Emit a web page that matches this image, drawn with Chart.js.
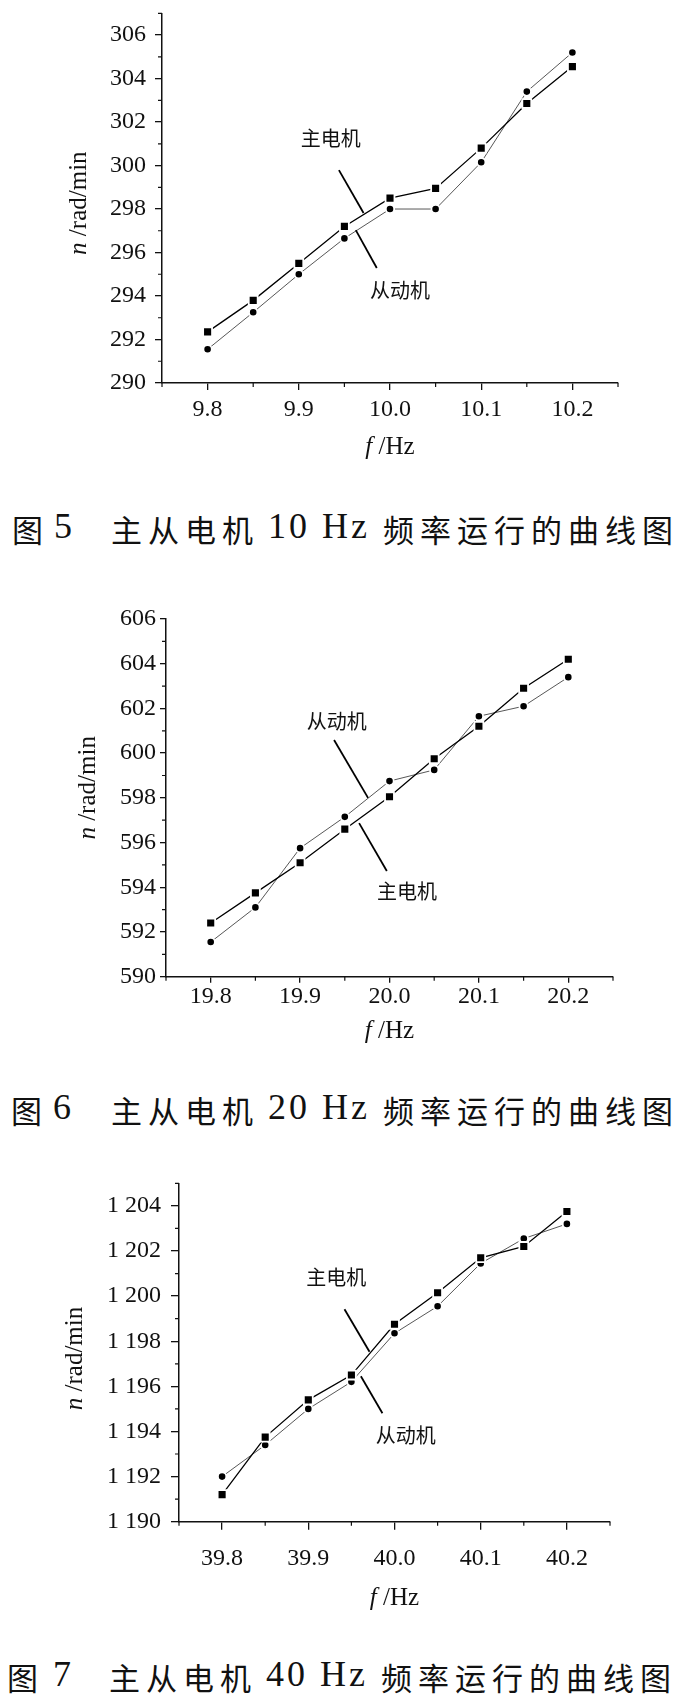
<!DOCTYPE html>
<html>
<head>
<meta charset="utf-8">
<script src="https://cdn.jsdelivr.net/npm/chart.js@4.4.1/dist/chart.umd.min.js"></script>
<style>
  html, body { margin: 0; padding: 0; background: #fff; }
  body { width: 682px; height: 1703px; position: relative; overflow: hidden; }
  canvas { position: absolute; left: 0; }
  .cc { position: absolute; white-space: pre; font-family: "Noto Sans CJK SC", sans-serif;
        font-size: 31px; line-height: 31px; letter-spacing: 6px; color: #111; }
  .cl { position: absolute; white-space: pre; font-family: "Liberation Serif", serif;
        font-size: 36px; line-height: 36px; letter-spacing: 3px; color: #111; }
</style>
</head>
<body>
<canvas id="c1" width="682" height="497" style="top:-17px"></canvas>
<div class="cc" style="left:12px;top:512.5px">图</div>
<div class="cl" style="left:54px;top:508px">5</div>
<div class="cc" style="left:111px;top:512.5px">主从电机</div>
<div class="cl" style="left:268px;top:508px">10 Hz</div>
<div class="cc" style="left:383px;top:512.5px">频率运行的曲线图</div>

<canvas id="c2" width="682" height="461" style="top:589px"></canvas>
<div class="cc" style="left:11px;top:1093.5px">图</div>
<div class="cl" style="left:53px;top:1089px">6</div>
<div class="cc" style="left:111px;top:1093.5px">主从电机</div>
<div class="cl" style="left:268px;top:1089px">20 Hz</div>
<div class="cc" style="left:383px;top:1093.5px">频率运行的曲线图</div>

<canvas id="c3" width="682" height="467" style="top:1153px"></canvas>
<div class="cc" style="left:7px;top:1660.5px">图</div>
<div class="cl" style="left:53px;top:1656px">7</div>
<div class="cc" style="left:109px;top:1660.5px">主从电机</div>
<div class="cl" style="left:266px;top:1656px">40 Hz</div>
<div class="cc" style="left:381px;top:1660.5px">频率运行的曲线图</div>
<script>
// ---------------- data ----------------
const seriesNames = ['主电机', '从动机'];

// Fig. 5 (10 Hz)
const freq1 = [9.80, 9.85, 9.90, 9.95, 10.00, 10.05, 10.10, 10.15, 10.20];
const master1 = [292.35, 293.8, 295.5, 297.2, 298.5, 298.95, 300.8, 302.85, 304.55];
const slave1 = [291.55, 293.25, 295.0, 296.65, 298.0, 298.0, 300.15, 303.4, 305.2];
const xTicks1 = [9.8, 9.9, 10.0, 10.1, 10.2];
const xLabels1 = ['9.8', '9.9', '10.0', '10.1', '10.2'];
const yTicks1 = [290, 292, 294, 296, 298, 300, 302, 304, 306];
const yLabels1 = ['290', '292', '294', '296', '298', '300', '302', '304', '306'];

// Fig. 6 (20 Hz)
const freq2 = [19.80, 19.85, 19.90, 19.95, 20.00, 20.05, 20.10, 20.15, 20.20];
const master2 = [592.4, 593.75, 595.1, 596.6, 598.05, 599.75, 601.2, 602.9, 604.2];
const slave2 = [591.55, 593.1, 595.75, 597.15, 598.75, 599.25, 601.65, 602.1, 603.4];
const xTicks2 = [19.8, 19.9, 20.0, 20.1, 20.2];
const xLabels2 = ['19.8', '19.9', '20.0', '20.1', '20.2'];
const yTicks2 = [590, 592, 594, 596, 598, 600, 602, 604, 606];
const yLabels2 = ['590', '592', '594', '596', '598', '600', '602', '604', '606'];

// Fig. 7 (40 Hz)
const freq3 = [39.80, 39.85, 39.90, 39.95, 40.00, 40.05, 40.10, 40.15, 40.20];
const master3 = [1191.2, 1193.75, 1195.4, 1196.5, 1198.75, 1200.15, 1201.7, 1202.2, 1203.75];
const slave3 = [1192.0, 1193.4, 1195.0, 1196.2, 1198.35, 1199.55, 1201.45, 1202.55, 1203.2];
const xTicks3 = [39.8, 39.9, 40.0, 40.1, 40.2];
const xLabels3 = ['39.8', '39.9', '40.0', '40.1', '40.2'];
const yTicks3 = [1190, 1192, 1194, 1196, 1198, 1200, 1202, 1204];
const yLabels3 = ['1 190', '1 192', '1 194', '1 196', '1 198', '1 200', '1 202', '1 204'];

// ---------------- drawing ----------------
Chart.defaults.font.family = '"Liberation Serif", "Times New Roman", serif';
Chart.defaults.font.size = 24;
Chart.defaults.color = '#111';

function minors(ticks, min, max) {
  const step = ticks[1] - ticks[0];
  const out = [];
  for (let i = -1; i < ticks.length; i++) {
    const v = (i < 0 ? ticks[0] - step / 2 : ticks[i] + step / 2);
    if (v >= min - 1e-9 && v <= max + 1e-9) out.push(v);
  }
  return out;
}

function drawMixed(ctx, parts, x, y, size) {
  let total = 0;
  parts.forEach(p => {
    ctx.font = (p.i ? 'italic ' : '') + size + 'px "Liberation Serif"';
    p.w = ctx.measureText(p.t).width;
    total += p.w;
  });
  let cx = x - total / 2;
  ctx.textAlign = 'left';
  ctx.textBaseline = 'middle';
  parts.forEach(p => {
    ctx.font = (p.i ? 'italic ' : '') + size + 'px "Liberation Serif"';
    ctx.fillText(p.t, cx, y);
    cx += p.w;
  });
}

const decor = {
  id: 'decor',
  afterDraw(chart, args, o) {
    const ctx = chart.ctx, xs = chart.scales.x, ys = chart.scales.y, ca = chart.chartArea;
    ctx.save();
    ctx.strokeStyle = '#111';
    ctx.lineWidth = 1.2;
    ctx.beginPath();
    o.xMinor.forEach(v => { const px = xs.getPixelForValue(v); ctx.moveTo(px, ca.bottom); ctx.lineTo(px, ca.bottom + o.minorLen); });
    o.yMinor.forEach(v => { const py = ys.getPixelForValue(v); ctx.moveTo(ca.left, py); ctx.lineTo(ca.left - o.minorLen, py); });
    ctx.stroke();

    ctx.strokeStyle = '#000';
    ctx.lineWidth = 1.8;
    o.leaders.forEach(l => {
      ctx.beginPath();
      ctx.moveTo(xs.getPixelForValue(l[0]), ys.getPixelForValue(l[1]));
      ctx.lineTo(xs.getPixelForValue(l[2]), ys.getPixelForValue(l[3]));
      ctx.stroke();
    });

    ctx.fillStyle = '#111';
    ctx.font = '20px "Noto Sans CJK SC"';
    ctx.textAlign = 'center';
    ctx.textBaseline = 'middle';
    o.notes.forEach(n => ctx.fillText(n.text, xs.getPixelForValue(n.x), ys.getPixelForValue(n.y)));

    drawMixed(ctx, [{t: 'f', i: true}, {t: ' /Hz'}], (ca.left + ca.right) / 2, ca.bottom + o.xTitleDy, 25);
    ctx.translate(ca.left + o.yTitleDx, (ca.top + ca.bottom) / 2 + o.yTitleDy);
    ctx.rotate(-Math.PI / 2);
    drawMixed(ctx, [{t: 'n', i: true}, {t: ' /rad/min'}], 0, 0, 25);
    ctx.restore();
  }
};

function makeChart(id, d) {
  const master = d.freq.map((f, i) => ({x: f, y: d.master[i]}));
  const slave = d.freq.map((f, i) => ({x: f, y: d.slave[i]}));
  return new Chart(document.getElementById(id), {
    type: 'line',
    data: {
      datasets: [
        { label: seriesNames[0], data: master, borderColor: '#000', borderWidth: 1.3,
          pointStyle: 'rect', pointRadius: 6.3, pointBackgroundColor: '#000',
          pointBorderColor: '#fff', pointBorderWidth: 1.8, tension: 0 },
        { label: seriesNames[1], data: slave, borderColor: '#444', borderWidth: 0.9,
          pointStyle: 'circle', pointRadius: 4.2, pointBackgroundColor: '#000',
          pointBorderColor: '#fff', pointBorderWidth: 1.8, tension: 0 }
      ]
    },
    options: {
      responsive: false,
      animation: false,
      events: [],
      layout: { padding: { top: d.padTop, right: d.padRight, left: 0, bottom: 0 } },
      plugins: {
        legend: { display: false },
        tooltip: { enabled: false },
        decor: {
          xMinor: minors(d.xTicks, d.xMin, d.xMax),
          yMinor: minors(d.yTicks, d.yMin, d.yMax),
          minorLen: 4,
          leaders: d.leaders,
          notes: d.notes,
          xTitleDy: d.xTitleDy,
          yTitleDx: d.yTitleDx,
          yTitleDy: d.yTitleDy
        }
      },
      scales: {
        x: {
          type: 'linear', min: d.xMin, max: d.xMax,
          afterBuildTicks: s => { s.ticks = d.xTicks.map(v => ({value: v})); },
          afterFit: s => { s.height = d.xHeight; },
          ticks: { autoSkip: false, maxRotation: 0, padding: d.xPad,
                   callback: (v, i) => d.xLabels[i] },
          grid: { drawOnChartArea: false, drawTicks: true, tickLength: d.tickLen, color: '#111', lineWidth: 1.3 },
          border: { display: true, color: '#111', width: 1.5 }
        },
        y: {
          type: 'linear', min: d.yMin, max: d.yMax,
          afterBuildTicks: s => { s.ticks = d.yTicks.map(v => ({value: v})); },
          afterFit: s => { s.width = d.yWidth; },
          ticks: { autoSkip: false, padding: d.yPad,
                   callback: (v, i) => d.yLabels[i] },
          grid: { drawOnChartArea: false, drawTicks: true, tickLength: d.tickLen, color: '#111', lineWidth: 1.3 },
          border: { display: true, color: '#111', width: 1.5 }
        }
      }
    },
    plugins: [decor]
  });
}

makeChart('c1', {
  freq: freq1, master: master1, slave: slave1,
  xTicks: xTicks1, xLabels: xLabels1, yTicks: yTicks1, yLabels: yLabels1,
  xMin: 9.75, xMax: 10.25, yMin: 290, yMax: 307,
  padTop: 30.3, padRight: 64, xHeight: 97, yWidth: 162,
  xPad: 5, yPad: 9, tickLen: 7,
  xTitleDy: 64, yTitleDx: -83, yTitleDy: 5,
  notes: [{text: '主电机', x: 9.935, y: 301.26}, {text: '从动机', x: 10.011, y: 294.28}],
  leaders: [[9.944, 299.79, 9.971, 297.82], [9.9625, 297.03, 9.9855, 295.29]]
});

makeChart('c2', {
  freq: freq2, master: master2, slave: slave2,
  xTicks: xTicks2, xLabels: xLabels2, yTicks: yTicks2, yLabels: yLabels2,
  xMin: 19.75, xMax: 20.25, yMin: 590, yMax: 606,
  padTop: 30, padRight: 69, xHeight: 73.3, yWidth: 166,
  xPad: 0, yPad: 4, tickLen: 6,
  xTitleDy: 55, yTitleDx: -78, yTitleDy: -10,
  notes: [{text: '从动机', x: 19.941, y: 601.40}, {text: '主电机', x: 20.0196, y: 593.80}],
  leaders: [[19.938, 600.59, 19.976, 598.0], [19.966, 596.87, 19.997, 594.73]]
});

makeChart('c3', {
  freq: freq3, master: master3, slave: slave3,
  xTicks: xTicks3, xLabels: xLabels3, yTicks: yTicks3, yLabels: yLabels3,
  xMin: 39.75, xMax: 40.25, yMin: 1190, yMax: 1205,
  padTop: 30.3, padRight: 72, xHeight: 98.3, yWidth: 179,
  xPad: 15, yPad: 10, tickLen: 8,
  xTitleDy: 77, yTitleDx: -104, yTitleDy: 6,
  notes: [{text: '主电机', x: 39.9325, y: 1200.85}, {text: '从动机', x: 40.013, y: 1193.84}],
  leaders: [[39.942, 1199.42, 39.971, 1197.53], [39.961, 1196.45, 39.986, 1194.81]]
});
</script>
</body>
</html>
